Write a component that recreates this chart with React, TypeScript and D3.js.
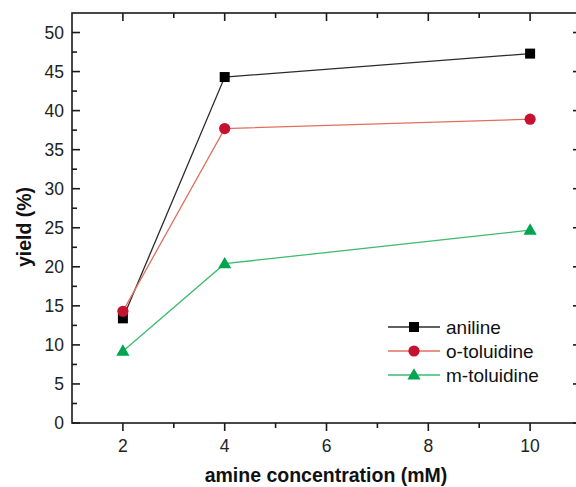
import React from "react";
import * as d3 from "d3";

const concentrations = [2, 4, 10];
const aniline = [13.4, 44.3, 47.3];
const oToluidine = [14.3, 37.7, 38.9];
const mToluidine = [9.2, 20.4, 24.7];
const seriesNames = ["aniline", "o-toluidine", "m-toluidine"];
const xMajorTicks = [2, 4, 6, 8, 10];
const xMinorTicks = [3, 5, 7, 9];
const yMajorTicks = [0, 5, 10, 15, 20, 25, 30, 35, 40, 45, 50];
const yMinorTicks = [2.5, 7.5, 12.5, 17.5, 22.5, 27.5, 32.5, 37.5, 42.5, 47.5];

const W = 576;
const H = 487;
const left = 72;
const right = 581;
const top = 13;
const bottom = 423;

const seriesStyles = [
  { line: "#2b2b2b", fill: "#000000", shape: "square" },
  { line: "#e0705e", fill: "#c41230", shape: "circle" },
  { line: "#3dbb6e", fill: "#00a550", shape: "triangle" },
];

function Marker({ shape, x, y, fill }: { shape: string; x: number; y: number; fill: string }) {
  if (shape === "square") {
    return <rect x={x - 5} y={y - 5} width={10} height={10} fill={fill} />;
  }
  if (shape === "circle") {
    return <circle cx={x} cy={y} r={5.6} fill={fill} />;
  }
  const p = d3.symbol().type(d3.symbolTriangle).size(75)();
  return <path d={p || ""} transform={`translate(${x},${y + 0.8})`} fill={fill} />;
}

export default function App() {
  const x = d3.scaleLinear().domain([1, 11]).range([left, right]);
  const y = d3.scaleLinear().domain([0, 52.5]).range([bottom, top]);
  const data = [aniline, oToluidine, mToluidine];
  const line = d3
    .line<[number, number]>()
    .x((d) => x(d[0]))
    .y((d) => y(d[1]));
  const font = "'Liberation Sans', Arial, Helvetica, sans-serif";
  const axisColor = "#1a1a1a";

  const legendX0 = 388;
  const legendX1 = 440;
  const legendY = [327, 351, 375];

  return (
    <svg
      width={W}
      height={H}
      style={{ position: "absolute", left: 0, top: 0, background: "#fff" }}
      fontFamily={font}
    >
      <rect x={0} y={0} width={W} height={H} fill="#fff" />
      <rect
        x={left}
        y={top}
        width={right - left}
        height={bottom - top}
        fill="none"
        stroke={axisColor}
        strokeWidth={1.6}
      />
      {xMajorTicks.map((t) => (
        <g key={`xM${t}`}>
          <line x1={x(t)} x2={x(t)} y1={bottom} y2={bottom + 8} stroke={axisColor} strokeWidth={1.6} />
          <line x1={x(t)} x2={x(t)} y1={top} y2={top + 8} stroke={axisColor} strokeWidth={1.6} />
          <text x={x(t)} y={452} textAnchor="middle" fontSize={17.5} fill="#222">
            {t}
          </text>
        </g>
      ))}
      {xMinorTicks.map((t) => (
        <g key={`xm${t}`}>
          <line x1={x(t)} x2={x(t)} y1={bottom} y2={bottom + 5} stroke={axisColor} strokeWidth={1.6} />
          <line x1={x(t)} x2={x(t)} y1={top} y2={top + 5} stroke={axisColor} strokeWidth={1.6} />
        </g>
      ))}
      {yMajorTicks.map((t) => (
        <g key={`yM${t}`}>
          <line x1={left} x2={left + 8} y1={y(t)} y2={y(t)} stroke={axisColor} strokeWidth={1.6} />
          <line x1={right} x2={right - 8} y1={y(t)} y2={y(t)} stroke={axisColor} strokeWidth={1.6} />
          <text x={64} y={y(t) + 6} textAnchor="end" fontSize={17.5} fill="#222">
            {t}
          </text>
        </g>
      ))}
      {yMinorTicks.map((t) => (
        <g key={`ym${t}`}>
          <line x1={left} x2={left + 5} y1={y(t)} y2={y(t)} stroke={axisColor} strokeWidth={1.6} />
          <line x1={right} x2={right - 5} y1={y(t)} y2={y(t)} stroke={axisColor} strokeWidth={1.6} />
        </g>
      ))}
      {data.map((vals, i) => {
        const pts: [number, number][] = concentrations.map((c, j) => [c, vals[j]]);
        const st = seriesStyles[i];
        return (
          <g key={seriesNames[i]}>
            <path d={line(pts) || ""} fill="none" stroke={st.line} strokeWidth={1.3} />
            {pts.map((p, j) => (
              <Marker key={j} shape={st.shape} x={x(p[0])} y={y(p[1])} fill={st.fill} />
            ))}
          </g>
        );
      })}
      {seriesNames.map((name, i) => {
        const st = seriesStyles[i];
        const ly = legendY[i];
        return (
          <g key={`leg${name}`}>
            <line x1={legendX0} x2={legendX1} y1={ly} y2={ly} stroke={st.line} strokeWidth={1.3} />
            <Marker shape={st.shape} x={(legendX0 + legendX1) / 2} y={ly} fill={st.fill} />
            <text x={446} y={ly + 6.5} fontSize={19} fill="#111">
              {name}
            </text>
          </g>
        );
      })}
      <text
        x={326}
        y={482}
        textAnchor="middle"
        fontSize={19.5}
        fontWeight="bold"
        fill="#111"
      >
        amine concentration (mM)
      </text>
      <text
        transform={`translate(31,${227}) rotate(-90)`}
        textAnchor="middle"
        fontSize={19.5}
        fontWeight="bold"
        fill="#111"
      >
        yield (%)
      </text>
    </svg>
  );
}
